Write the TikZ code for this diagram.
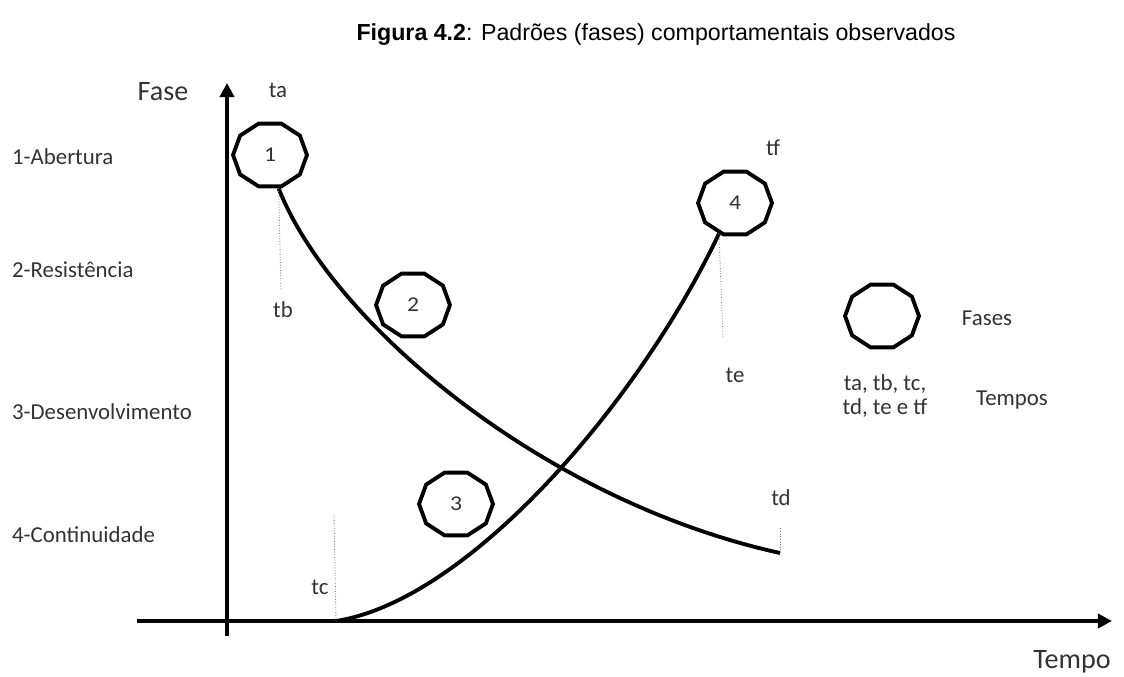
\documentclass[tikz,border=0pt]{standalone}
\usepackage{fontspec}
\setmainfont{Carlito}
\newfontfamily\titlefont{Liberation Sans}
\usetikzlibrary{arrows.meta, positioning, shapes.geometric}
\definecolor{inkgray}{RGB}{50,50,50}
\tikzset{
  fase/.style  = {draw=black, line width=2.2pt, regular polygon, regular polygon sides=10,
                  minimum size=1.32cm, inner sep=0pt, xscale=1.12, transform shape,
                  font=\fontsize{12}{15}\selectfont, text=inkgray},
  eixo/.style  = {line width=2.4pt, -{Triangle[length=8pt, width=8pt]}},
  curva/.style = {line width=2.2pt},
  guia/.style  = {gray, line width=0.5pt, densely dotted},
  lbl/.style   = {font=\fontsize{13}{15}\selectfont, text=inkgray, inner sep=1pt},
  big/.style   = {font=\fontsize{16}{18}\selectfont, text=inkgray, inner sep=1pt},
}

\begin{document}
\begin{tikzpicture}[x=0.02cm, y=-0.02cm]
  \useasboundingbox (0,0) rectangle (1124,676);
  % title
  \node[font=\titlefont\fontsize{13.2}{15}\selectfont] (titulo) at (656,35)
    {\textbf{Figura 4.2}: Padrões (fases) comportamentais observados};
  % axes
  \coordinate (ybase) at (227,636);
  \coordinate (ytop) at (227,83);
  \coordinate (xbase) at (137,621);
  \coordinate (xtop) at (1112,621);
  \draw[eixo] (ybase) -- (ytop);
  \draw[eixo] (xbase) -- (xtop);
  \node[big] (fase) at (163,92) {Fase};
  \node[big] (tempo) at (1072,662) {Tempo};
  % phase levels
  \foreach \n/\y/\t in {1/157/1-Abertura, 2/270/2-Resistência,
                        3/412/3-Desenvolvimento, 4/535/4-Continuidade}
    \node[lbl, anchor=west] (nivel\n) at (10,\y) {\t};
  % phases
  \foreach \n/\x/\y in {1/270/155, 2/413/305, 3/456/504, 4/735/203}
    \node[fase] (ph\n) at (\x,\y) {\n};
  % curves
  \coordinate (tcpt) at (336,621);
  \coordinate (tdpt) at (780,553);
  \draw[curva] (ph1.-77) .. controls (330,320) and (540,500) .. (tdpt);
  \draw[curva] (tcpt) .. controls (470,600) and (640,400) .. (ph4.-115);
  % time marks
  \coordinate (tbpt) at (281,290);
  \coordinate (tctop) at (334,515);
  \coordinate (tdtop) at (780,528);
  \coordinate (tept) at (723,337);
  \draw[guia] (ph1.-77) -- (tbpt);
  \draw[guia] (tcpt) -- (tctop);
  \draw[guia] (tdpt) -- (tdtop);
  \draw[guia] (ph4.-115) -- (tept);
  \foreach \t/\x/\y in {ta/278/90, tb/283/310, tc/320/587, td/781/498, te/735/375, tf/773/148}
    \node[lbl] (\t) at (\x,\y) {\t};
  % legend
  \node[fase] (legenda) at (882,316) {};
  \node[lbl] (fases) at (987,318) {Fases};
  \node[lbl, align=center, font=\fontsize{13}{13.5}\selectfont] (lista) at (885,396)
    {ta, tb, tc,\\td, te e tf};
  \node[lbl] (tempos) at (1012,400) {Tempos};
\end{tikzpicture}
\end{document}
